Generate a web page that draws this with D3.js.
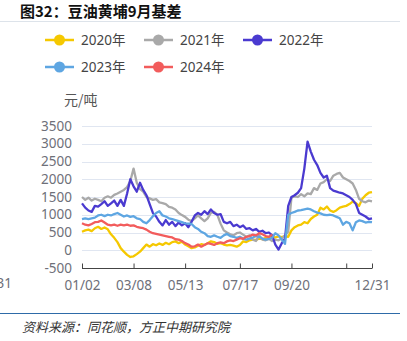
<!DOCTYPE html>
<html><head><meta charset="utf-8">
<script src="https://cdn.jsdelivr.net/npm/d3@7"></script>
<style>
body{margin:0;background:#fff;}
svg{display:block;font-family:"Noto Sans","Noto Sans CJK SC",sans-serif;}
</style></head><body>
<svg id="c" width="407" height="341"></svg>
<script>
const title = "图32：豆油黄埔9月基差";
const unit = "元/吨";
const source = "资料来源：同花顺，方正中期研究院";
const seriesNames = ["2020年","2021年","2022年","2023年","2024年"];
const seriesColors = ["#F5C800","#A9A9A9","#4A3AD0","#5EA6E2","#F25C5C"];
const yTicks = [-500,0,500,1000,1500,2000,2500,3000,3500];
const xTickPos = [0,16,32,49,65,82,90];
const xTickLabels = ["01/02","03/08","05/13","07/17","09/20","","12/31"];

const s2020 = [520,560,580,540,620,660,600,640,590,450,350,230,60,-40,-130,-190,-170,-110,-40,60,
160,100,170,140,190,150,210,170,230,250,200,240,160,110,60,80,130,170,150,200,
250,230,180,200,160,140,150,130,100,150,250,230,280,300,290,330,310,350,340,380,
360,390,370,400,380,560,650,700,720,790,760,880,950,1000,1200,1150,1230,1120,1080,1130,
1200,1230,1250,1300,1370,1330,1250,1450,1550,1620,1640];
const s2021 = [1500,1420,1480,1400,1450,1420,1380,1480,1520,1480,1560,1600,1650,1700,1780,1950,2300,1900,1720,1650,
1500,1460,1420,1440,1350,1330,1300,1220,1200,1150,1050,990,940,860,820,900,980,900,820,900,
1050,1080,1000,750,560,500,450,420,480,500,440,380,420,300,260,420,300,280,320,260,
300,280,330,420,520,1480,1520,1500,1580,1520,1600,1580,1750,1700,1880,1920,2000,1950,2100,2150,
2180,2050,2000,1950,1880,1700,1450,1380,1350,1400,1380];
const s2022 = [1320,1200,1120,1080,1250,1230,1300,1380,1250,1320,1400,1250,1420,1250,1600,2000,1800,1650,1900,1700,
1550,1300,1050,950,800,700,850,720,800,680,780,700,760,650,800,980,1050,1000,1100,1020,
1150,1050,1000,1020,800,760,800,680,720,650,700,600,620,560,600,520,550,480,500,420,
160,20,200,330,1250,1500,1550,1620,1750,2300,3060,2780,2550,2400,2180,2050,2100,1750,1680,1650,
1620,1600,1550,1500,1420,1300,1050,1000,950,880,900];
const s2023 = [880,900,880,900,920,980,1000,960,1000,980,1020,1050,1000,950,980,940,960,900,880,800,
760,850,960,1050,1100,980,950,900,880,850,820,790,760,750,740,650,600,520,480,400,
380,420,380,350,420,460,400,380,350,380,330,300,330,360,400,380,330,300,320,350,
480,420,300,180,1000,1050,1080,1120,1130,1150,1170,1150,1100,1060,1040,1000,990,1000,980,940,
900,720,800,760,560,790,840,820,780,800,790];
const s2024 = [760,720,700,740,790,800,840,780,720,700,720,690,720,700,720,690,700,660,640,620,
580,520,480,460,440,420,400,380,360,310,300,260,200,160,100,110,160,100,150,200,
180,150,200,220,200,250,280,260,300,340,320,380,400,440,420,480,450,400,380,440];
const seriesData = [s2020,s2021,s2022,s2023,s2024];

const svg = d3.select("#c");
const x = d3.scaleLinear().domain([0,90]).range([82,372]);
const y = d3.scaleLinear().domain([-500,3500]).range([268,126]);

// title
svg.append("text").attr("x",20).attr("y",17).attr("font-size",15).attr("font-weight","bold")
  .attr("fill","#111").attr("font-family","'Noto Sans CJK SC',sans-serif").text(title);
svg.append("line").attr("x1",0).attr("x2",400).attr("y1",21.5).attr("y2",21.5)
  .attr("stroke","#DDE3EA").attr("stroke-width",1);

// legend
const legendPos = [[45,40],[144,40],[243,40],[45,67],[144,67]];
seriesNames.forEach((n,i)=>{
  const [lx,ly] = legendPos[i];
  const g = svg.append("g");
  g.append("line").attr("x1",lx).attr("x2",lx+29).attr("y1",ly).attr("y2",ly)
    .attr("stroke",seriesColors[i]).attr("stroke-width",2.5);
  g.append("circle").attr("cx",lx+14.5).attr("cy",ly).attr("r",5.5).attr("fill",seriesColors[i]);
  g.append("text").attr("x",lx+36).attr("y",ly).attr("dy","0.35em").attr("font-size",13.5)
    .attr("fill","#444").text(n);
});

// unit
svg.append("text").attr("x",64).attr("y",105).attr("font-size",14).attr("fill","#555")
  .attr("font-family","'Noto Sans CJK SC',sans-serif").text(unit);

// grid
svg.append("g").selectAll("line").data(yTicks.filter(v=>v>-500)).join("line")
  .attr("x1",82).attr("x2",372).attr("y1",d=>Math.round(y(d))+0.5).attr("y2",d=>Math.round(y(d))+0.5)
  .attr("stroke","#E0E6F1").attr("stroke-width",1);

// y labels
svg.append("g").selectAll("text").data(yTicks).join("text")
  .attr("x",72).attr("y",d=>y(d)).attr("dy","0.35em").attr("text-anchor","end")
  .attr("font-size",13.5).attr("fill","#6E7079").text(d=>d);

// x axis
const xAxis = d3.axisBottom(x).tickValues(xTickPos).tickFormat((d,i)=>xTickLabels[i]).tickSize(5).tickPadding(4);
const gx = svg.append("g").attr("transform","translate(0,268.5)").call(xAxis);
gx.select(".domain").attr("stroke","#444").attr("d","M82,0H372");
gx.selectAll(".tick line").attr("stroke","#444").attr("y1",0).attr("y2",-5);
gx.selectAll(".tick text").attr("font-size",13.5).attr("fill","#6E7079")
  .attr("font-family","'Noto Sans',sans-serif").attr("dy","0.9em");
// overflow label on left edge, as in the reference
svg.append("text").attr("x",12).attr("y",283).attr("dy","0.35em").attr("text-anchor","end")
  .attr("font-size",13.5).attr("fill","#6E7079").text(xTickLabels[6]);

// lines
const line = d3.line().x((d,i)=>x(i)).y(d=>y(d));
seriesData.forEach((s,i)=>{
  svg.append("path").datum(s).attr("d",line).attr("fill","none")
    .attr("stroke",seriesColors[i]).attr("stroke-width",2.3).attr("stroke-linejoin","round");
});

// footer
svg.append("line").attr("x1",0).attr("x2",400).attr("y1",313.5).attr("y2",313.5)
  .attr("stroke","#2E6BA8").attr("stroke-width",1);
svg.append("text").attr("x",22).attr("y",327).attr("dy","0.35em").attr("font-size",13)
  .attr("font-style","italic").attr("fill","#333").attr("font-family","'Noto Sans CJK SC',sans-serif")
  .text(source);
</script>
</body></html>
